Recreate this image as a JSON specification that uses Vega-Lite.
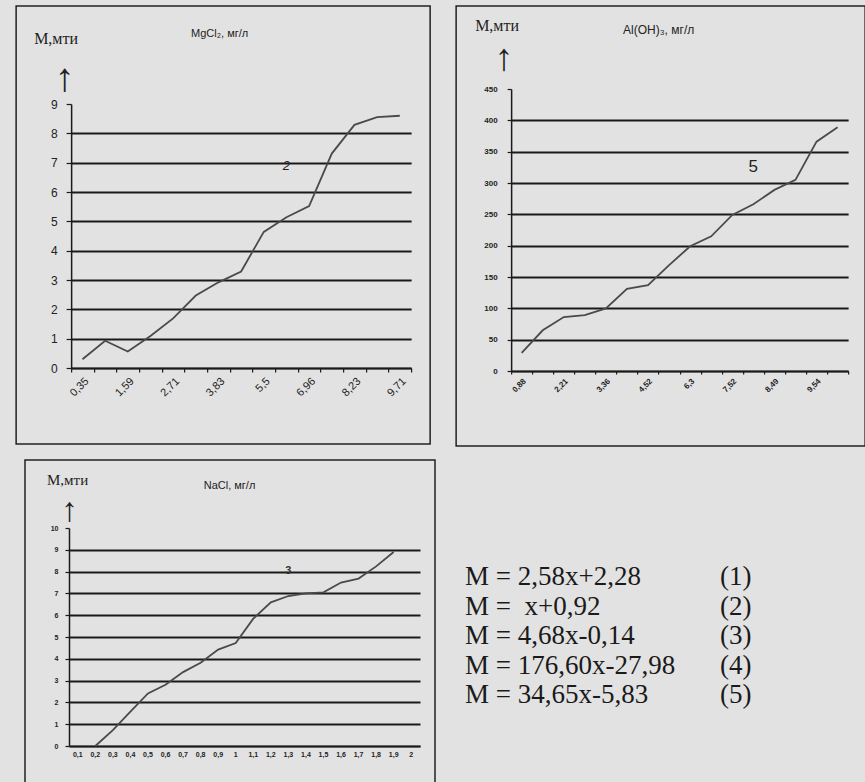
{
  "$schema": "https://vega.github.io/schema/vega-lite/v6.json",
  "background": "#e2e2e2",
  "padding": {"left": 15, "top": 5, "right": 3, "bottom": 2},
  "spacing": 12,
  "center": true,
  "config": {
    "view": {"stroke": "#222", "strokeWidth": 1.5},
    "font": "Liberation Sans",
    "axis": {"domainColor": "#1a1a1a", "domainWidth": 1.5, "tickColor": "#1a1a1a", "tickWidth": 1.2, "labelColor": "#222", "titleColor": "#222", "titleFontWeight": "normal", "gridColor": "#1a1a1a", "gridWidth": 1.8, "labelOverlap": false},
    "title": {"color": "#222"}
  },
  "vconcat": [
    {
      "spacing": 24,
      "hconcat": [
        {
          "width": 414, "height": 438,
          "title": {"text": "M,мти", "anchor": "start", "frame": "group", "offset": 0, "dx": 18, "dy": 54, "baseline": "alphabetic", "font": "Liberation Serif", "fontSize": 16, "fontWeight": "normal"},
          "data": {"values": [
            {"c": "0,35", "m": 0.3}, {"c": "0,97", "m": 0.93}, {"c": "1,59", "m": 0.56}, {"c": "2,15", "m": 1.09},
            {"c": "2,71", "m": 1.69}, {"c": "3,27", "m": 2.47}, {"c": "3,83", "m": 2.92}, {"c": "4,67", "m": 3.29},
            {"c": "5,5", "m": 4.64}, {"c": "6,23", "m": 5.14}, {"c": "6,96", "m": 5.52}, {"c": "7,6", "m": 7.31},
            {"c": "8,23", "m": 8.29}, {"c": "8,97", "m": 8.55}, {"c": "9,71", "m": 8.6}
          ]},
          "layer": [
            {
              "mark": {"type": "line", "color": "#4a4a4a", "strokeWidth": 1.8},
              "encoding": {
                "x": {"field": "c", "type": "ordinal", "bandPosition": 0.5,
                  "scale": {"type": "band", "domain": ["0,35","0,97","1,59","2,15","2,71","3,27","3,83","4,67","5,5","6,23","6,96","7,6","8,23","8,97","9,71"], "range": [55, 395], "paddingInner": 0, "paddingOuter": 0},
                  "axis": {"offset": -76, "tickBand": "extent", "tickSize": 4, "labelAngle": -45, "labelFontSize": 11, "labelPadding": 3,
                    "labelExpr": "indexof(['0,35','1,59','2,71','3,83','5,5','6,96','8,23','9,71'], datum.value) >= 0 ? datum.label : ''",
                    "title": "MgCl₂, мг/л", "titleX": 203, "titleY": -335, "titleFontSize": 11, "titleBaseline": "middle", "grid": false}},
                "y": {"field": "m", "type": "quantitative",
                  "scale": {"domain": [0, 9], "range": [362, 98], "nice": false, "zero": false},
                  "axis": {"offset": -55, "values": [0,1,2,3,4,5,6,7,8,9], "grid": true,
                    "gridOpacity": {"condition": {"test": "datum.value >= 9", "value": 0}, "value": 1},
                    "tickSize": 5, "labelPadding": 9, "labelFontSize": 12,
                    "title": "↑", "titleAngle": 0, "titleX": -7, "titleY": 72, "titleFontSize": 40, "titleFont": "Liberation Sans", "titleAlign": "center", "titleBaseline": "middle"}}
              }
            },
            {
              "data": {"values": [{"c": "6,23", "m": 6.9, "t": "2"}]},
              "mark": {"type": "text", "fontSize": 13, "fontStyle": "italic", "color": "#222"},
              "encoding": {
                "x": {"field": "c", "type": "ordinal", "bandPosition": 0.5},
                "y": {"field": "m", "type": "quantitative"},
                "text": {"field": "t"}
              }
            }
          ]
        },
        {
          "width": 409, "height": 440,
          "title": {"text": "M,мти", "anchor": "start", "frame": "group", "offset": 0, "dx": 19, "dy": 41, "baseline": "alphabetic", "font": "Liberation Serif", "fontSize": 16, "fontWeight": "normal"},
          "data": {"values": [
            {"c": "0,88", "m": 29}, {"c": "1,55", "m": 65}, {"c": "2,21", "m": 86}, {"c": "2,79", "m": 89},
            {"c": "3,36", "m": 100}, {"c": "3,94", "m": 131}, {"c": "4,52", "m": 137}, {"c": "5,41", "m": 169},
            {"c": "6,3", "m": 199}, {"c": "6,91", "m": 215}, {"c": "7,52", "m": 249}, {"c": "8,0", "m": 266},
            {"c": "8,49", "m": 289}, {"c": "9,02", "m": 305}, {"c": "9,54", "m": 366}, {"c": "10,1", "m": 389}
          ]},
          "layer": [
            {
              "mark": {"type": "line", "color": "#4a4a4a", "strokeWidth": 1.8},
              "encoding": {
                "x": {"field": "c", "type": "ordinal", "bandPosition": 0.5,
                  "scale": {"type": "band", "domain": ["0,88","1,55","2,21","2,79","3,36","3,94","4,52","5,41","6,3","6,91","7,52","8,0","8,49","9,02","9,54","10,1"], "range": [55, 392], "paddingInner": 0, "paddingOuter": 0},
                  "axis": {"offset": -75, "tickBand": "extent", "tickSize": 3, "labelAngle": -45, "labelFontSize": 8, "labelFontWeight": "bold", "labelPadding": 3,
                    "labelExpr": "indexof(['0,88','2,21','3,36','4,52','6,3','7,52','8,49','9,54'], datum.value) >= 0 ? datum.label : ''",
                    "title": "Al(OH)₃, мг/л", "titleX": 202, "titleY": -342, "titleFontSize": 12, "titleBaseline": "middle", "grid": false}},
                "y": {"field": "m", "type": "quantitative",
                  "scale": {"domain": [0, 450], "range": [365, 83], "nice": false, "zero": false},
                  "axis": {"offset": -55, "values": [0,50,100,150,200,250,300,350,400,450], "grid": true,
                    "gridOpacity": {"condition": {"test": "datum.value >= 450", "value": 0}, "value": 1},
                    "tickSize": 4, "labelPadding": 10, "labelFontSize": 8, "labelFontWeight": "bold",
                    "title": "↑", "titleAngle": 0, "titleX": -8, "titleY": 52, "titleFontSize": 38, "titleFont": "Liberation Sans", "titleAlign": "center", "titleBaseline": "middle"}}
              }
            },
            {
              "data": {"values": [{"c": "8,0", "m": 325, "t": "5"}]},
              "mark": {"type": "text", "fontSize": 17, "color": "#222"},
              "encoding": {
                "x": {"field": "c", "type": "ordinal", "bandPosition": 0.5},
                "y": {"field": "m", "type": "quantitative"},
                "text": {"field": "t"}
              }
            }
          ]
        }
      ]
    },
    {
      "spacing": 9,
      "hconcat": [
        {
          "width": 410, "height": 323,
          "title": {"text": "M,мти", "anchor": "start", "frame": "group", "offset": 0, "dx": 22, "dy": 40, "baseline": "alphabetic", "font": "Liberation Serif", "fontSize": 15, "fontWeight": "normal"},
          "data": {"values": [
            {"c": "0,2", "m": 0.0}, {"c": "0,3", "m": 0.73}, {"c": "0,4", "m": 1.58}, {"c": "0,5", "m": 2.41},
            {"c": "0,6", "m": 2.81}, {"c": "0,7", "m": 3.39}, {"c": "0,8", "m": 3.82}, {"c": "0,9", "m": 4.42},
            {"c": "1", "m": 4.72}, {"c": "1,1", "m": 5.84}, {"c": "1,2", "m": 6.59}, {"c": "1,3", "m": 6.88},
            {"c": "1,4", "m": 7.0}, {"c": "1,5", "m": 7.05}, {"c": "1,6", "m": 7.5}, {"c": "1,7", "m": 7.68},
            {"c": "1,8", "m": 8.24}, {"c": "1,9", "m": 8.9}
          ]},
          "layer": [
            {
              "mark": {"type": "line", "color": "#4a4a4a", "strokeWidth": 1.8},
              "encoding": {
                "x": {"field": "c", "type": "ordinal", "bandPosition": 0.5,
                  "scale": {"type": "band", "domain": ["0,1","0,2","0,3","0,4","0,5","0,6","0,7","0,8","0,9","1","1,1","1,2","1,3","1,4","1,5","1,6","1,7","1,8","1,9","2"], "range": [44, 395], "paddingInner": 0, "paddingOuter": 0},
                  "axis": {"offset": -37, "ticks": false, "labelAngle": 0, "labelFontSize": 7, "labelFontWeight": "bold", "labelPadding": 4,
                    "title": "NaCl, мг/л", "titleX": 204, "titleY": -261, "titleFontSize": 11, "titleBaseline": "middle", "grid": false}},
                "y": {"field": "m", "type": "quantitative",
                  "scale": {"domain": [0, 10], "range": [286, 68], "nice": false, "zero": false},
                  "axis": {"offset": -44, "values": [0,1,2,3,4,5,6,7,8,9,10], "tickCount": 11, "grid": true,
                    "gridOpacity": {"condition": {"test": "datum.value >= 10", "value": 0}, "value": 1},
                    "tickSize": 4, "labelPadding": 7, "labelFontSize": 7, "labelFontWeight": "bold",
                    "title": "↑", "titleAngle": 0, "titleX": 0, "titleY": 50, "titleFontSize": 34, "titleFont": "Liberation Sans", "titleAlign": "center", "titleBaseline": "middle"}}
              }
            },
            {
              "data": {"values": [{"c": "1,3", "m": 8.05, "t": "3"}]},
              "mark": {"type": "text", "fontSize": 11, "fontWeight": "bold", "color": "#333"},
              "encoding": {
                "x": {"field": "c", "type": "ordinal", "bandPosition": 0.5},
                "y": {"field": "m", "type": "quantitative"},
                "text": {"field": "t"}
              }
            }
          ]
        },
        {
          "width": 412, "height": 323,
          "view": {"stroke": null},
          "data": {"values": [
            {"n": 1, "col": "a", "t": "M = 2,58x+2,28"}, {"n": 1, "col": "b", "t": "(1)"},
            {"n": 2, "col": "a", "t": "M = \u00a0x+0,92"}, {"n": 2, "col": "b", "t": "(2)"},
            {"n": 3, "col": "a", "t": "M = 4,68x-0,14"}, {"n": 3, "col": "b", "t": "(3)"},
            {"n": 4, "col": "a", "t": "M = 176,60x-27,98"}, {"n": 4, "col": "b", "t": "(4)"},
            {"n": 5, "col": "a", "t": "M = 34,65x-5,83"}, {"n": 5, "col": "b", "t": "(5)"}
          ]},
          "mark": {"type": "text", "align": "left", "baseline": "alphabetic", "font": "Liberation Serif", "fontSize": 27, "color": "#1a1a1a"},
          "encoding": {
            "x": {"field": "col", "type": "nominal", "scale": {"type": "point", "domain": ["a", "b"], "range": [20, 275], "padding": 0}, "axis": null},
            "y": {"field": "n", "type": "ordinal", "scale": {"type": "point", "domain": [1, 2, 3, 4, 5], "range": [125, 243], "padding": 0}, "axis": null},
            "text": {"field": "t"}
          }
        }
      ]
    }
  ]
}
